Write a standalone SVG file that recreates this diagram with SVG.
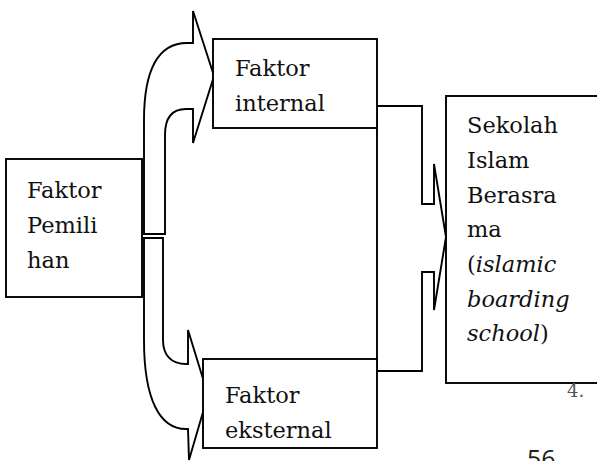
<svg xmlns="http://www.w3.org/2000/svg" width="597" height="461" viewBox="0 0 597 461">
<style>
.box{fill:#fff;stroke:#000;stroke-width:1.9}
.arr{fill:#fff;stroke:#000;stroke-width:1.9;stroke-linejoin:miter}
.t{font-family:"DejaVu Serif","Liberation Serif",serif;font-size:22.5px;fill:#111}
.i{font-style:italic}
</style>
<g id="connectors">
<path class="arr" d="M144,234 L144,120 C144,70 158,43 187,43 L193,43 L193,11 L214,76 L193,143 L193,109 L186,109 C172,109 165,118 165,135 L165,234 Z"/>
<path class="arr" d="M144,238 L163,238 L163,340 C163,355 171,364 186,364 L188,364 L188,330 L208,395 L189,460 L188,429 L186,429 C160,429 144,400 144,340 Z"/>
<path class="arr" d="M377,106 L422,106 L422,204 L434,204 L434,164 L446,237 L434,310 L434,272 L422,272 L422,371 L377,371 Z"/>
</g>
<g id="node-pemilihan">
<rect class="box" x="6" y="159" width="136" height="138"/>
<text class="t" x="27" y="198">Faktor</text>
<text class="t" x="27" y="233">Pemili</text>
<text class="t" x="27" y="268">han</text>
</g>
<g id="node-internal">
<rect class="box" x="213" y="39" width="164" height="89"/>
<text class="t" x="235" y="76">Faktor</text>
<text class="t" x="235" y="111">internal</text>
</g>
<g id="node-eksternal">
<rect class="box" x="203" y="359" width="174" height="89"/>
<text class="t" x="225" y="403">Faktor</text>
<text class="t" x="225" y="438">eksternal</text>
</g>
<g id="node-sekolah">
<rect class="box" x="446" y="96" width="160" height="287"/>
<text class="t" x="467" y="133">Sekolah</text>
<text class="t" x="467" y="168">Islam</text>
<text class="t" x="467" y="203">Berasra</text>
<text class="t" x="467" y="237">ma</text>
<text class="t" x="467" y="272">(<tspan class="i">islamic</tspan></text>
<text class="t i" x="467" y="307">boarding</text>
<text class="t" x="467" y="341"><tspan class="i">school</tspan>)</text>
</g>
<text class="t" x="567" y="397" style="font-size:18px;fill:#555">4.</text>
<text x="527" y="468" style="font-family:'Open Sans','Liberation Sans',sans-serif;font-size:25px;fill:#222">56</text>
</svg>
